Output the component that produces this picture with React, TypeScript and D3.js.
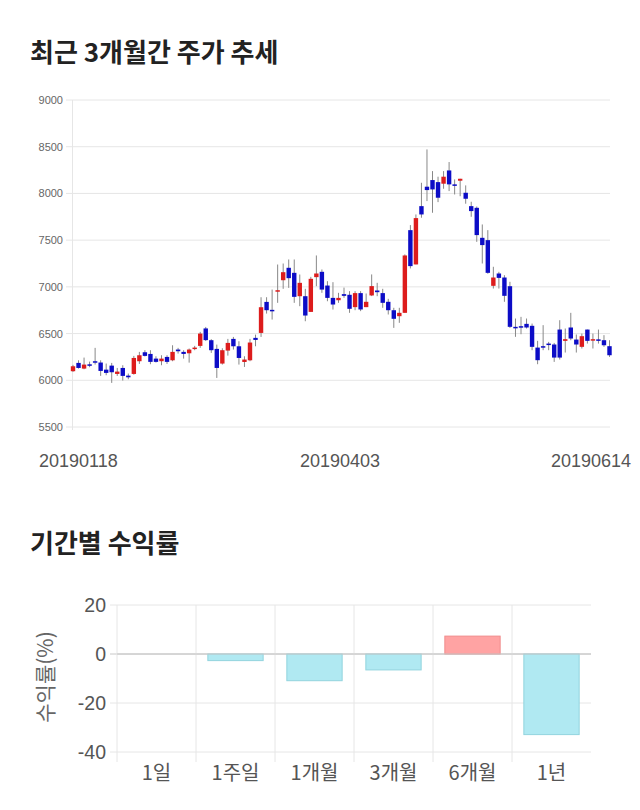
import React from "react";
import * as d3 from "d3";

const opens = [6097,6186,6125,6171,6204,6190,6114,6157,6068,6132,6050,6068,6204,6300,6282,6232,6204,6250,6214,6329,6304,6289,6336,6368,6555,6429,6336,6179,6318,6443,6364,6196,6214,6454,6507,6839,6754,6950,7071,7204,7150,6900,6900,6732,7104,7161,7014,6882,6857,6922,6915,6783,6933,6783,6908,6961,6933,6840,6750,6686,6722,7607,7240,7864,8072,8143,8121,8104,8246,8097,8136,8007,7864,7846,7525,7500,7011,7143,7100,7007,6572,6579,6604,6583,6350,6365,6393,6383,6543,6422,6565,6436,6358,6543,6433,6438,6429,6365];
const closes = [6150,6132,6168,6157,6193,6100,6079,6086,6093,6047,6032,6239,6268,6261,6197,6197,6232,6197,6304,6311,6282,6329,6350,6500,6430,6322,6132,6322,6400,6364,6239,6222,6404,6432,6782,6750,6743,6964,7157,7093,6893,7043,6693,7086,7143,6971,6882,6811,6882,6904,6765,6933,6758,6840,7008,6943,6829,6750,6658,6722,7336,7222,7736,7775,8036,8043,7954,8179,8097,8086,8157,7943,7811,7554,7447,7150,7100,7096,6904,6572,6568,6575,6565,6358,6215,6350,6383,6243,6243,6440,6447,6383,6472,6422,6440,6433,6375,6268];
const highs = [6165,6214,6243,6200,6347,6214,6179,6186,6132,6161,6072,6261,6304,6322,6322,6257,6268,6268,6375,6347,6322,6340,6368,6518,6571,6440,6382,6343,6443,6464,6418,6257,6443,6489,6889,6889,6971,7239,7250,7293,7293,7132,6979,7107,7336,7186,7061,7050,6936,6992,6954,6954,6954,6929,7133,7043,6979,6872,6776,6776,7347,7661,7775,8114,8471,8239,8179,8239,8336,8150,8157,8086,7911,7860,7668,7607,7215,7161,7125,7054,6661,6679,6661,6607,6422,6590,6411,6400,6643,6554,6722,6490,6500,6543,6500,6543,6483,6429];
const lows = [6090,6125,6118,6140,6168,6047,6054,5972,6047,5997,6011,6060,6175,6255,6172,6190,6161,6175,6204,6286,6232,6189,6322,6347,6420,6293,6025,6168,6264,6329,6168,6143,6204,6364,6464,6714,6650,6829,6979,6989,6829,6793,6632,6732,7007,6936,6846,6757,6829,6883,6722,6750,6740,6783,6901,6900,6776,6704,6561,6615,6722,7197,7240,7740,7918,7793,7907,8050,8025,7989,7970,7890,7750,7482,7250,7140,6982,6982,6840,6560,6465,6493,6554,6322,6172,6322,6322,6197,6222,6297,6429,6297,6340,6393,6340,6393,6358,6250];
const priceTicks = [5500, 6000, 6500, 7000, 7500, 8000, 8500, 9000];
const dateLabels = ["20190118", "20190403", "20190614"];

const periods = ["1일", "1주일", "1개월", "3개월", "6개월", "1년"];
const returns = [0, -2.7, -10.9, -6.5, 7.3, -32.9];
const returnTicks = [20, 0, -20, -40];

const KR = "'Noto Sans CJK KR', 'Noto Sans', sans-serif";
const NUM = "'Liberation Sans', Arial, 'Noto Sans CJK KR', sans-serif";

export default function App() {
  const idx = d3.range(opens.length);
  const x = d3.scaleLinear().domain([0, opens.length - 1]).range([73, 609.5]);
  const y = d3.scaleLinear().domain([5500, 9000]).range([427, 100]);
  const red = "#dd1c1c";
  const blue = "#0c0cc6";

  const bx = d3.scaleBand<string>().domain(periods).range([117, 591]).padding(0);
  const by = d3.scaleLinear().domain([-40, 20]).range([752, 605]);
  const bw = bx.bandwidth() * 0.7;

  return (
    <svg width={640} height={810} style={{ position: "absolute", left: 0, top: 0, background: "#fff" }}>
      <text x={30} y={62} fontFamily={KR} fontWeight="bold" fontSize={26} fill="#222">최근 3개월간 주가 추세</text>

      {priceTicks.map((t) => (
        <g key={t}>
          <line x1={66} x2={610} y1={y(t)} y2={y(t)} stroke="#e6e6e6" strokeWidth={1} />
          <text x={63} y={y(t) + 4} textAnchor="end" fontFamily={NUM} fontSize={11} fill="#666">{t}</text>
        </g>
      ))}
      <line x1={72.5} x2={72.5} y1={100} y2={430} stroke="#e6e6e6" />

      {idx.map((i) => {
        const o = opens[i], c = closes[i];
        const up = c >= o;
        const top = y(Math.max(o, c));
        const h = Math.max(1.5, y(Math.min(o, c)) - top);
        const cx = x(i);
        return (
          <g key={i}>
            <line x1={cx} x2={cx} y1={y(highs[i])} y2={y(lows[i])} stroke="#888" strokeWidth={1} />
            <rect x={cx - 2.2} y={top} width={4.4} height={h} fill={up ? red : blue} />
          </g>
        );
      })}

      <text x={39} y={467} fontFamily={NUM} fontSize={18} fill="#555">{dateLabels[0]}</text>
      <text x={340} y={467} textAnchor="middle" fontFamily={NUM} fontSize={18} fill="#555">{dateLabels[1]}</text>
      <text x={631} y={467} textAnchor="end" fontFamily={NUM} fontSize={18} fill="#555">{dateLabels[2]}</text>

      <text x={30} y={553} fontFamily={KR} fontWeight="bold" fontSize={26} fill="#222">기간별 수익률</text>

      {returnTicks.map((t) => (
        <g key={t}>
          <line x1={110} x2={591} y1={by(t)} y2={by(t)} stroke={t === 0 ? "#c8c8c8" : "#e6e6e6"} />
          <text x={106} y={by(t) + 7} textAnchor="end" fontFamily={NUM} fontSize={19.5} fill="#555">{t}</text>
        </g>
      ))}
      {periods.map((p) => (
        <line key={p} x1={bx(p)!} x2={bx(p)!} y1={605} y2={762} stroke="#e6e6e6" />
      ))}

      {periods.map((p, i) => {
        const v = returns[i];
        if (v === 0) return null;
        const y0 = by(Math.max(0, v));
        const h = Math.abs(by(v) - by(0));
        return (
          <rect key={p} x={bx(p)! + (bx.bandwidth() - bw) / 2} y={y0} width={bw} height={h}
            fill={v > 0 ? "#ffa3a3" : "#b0e9f2"} stroke={v > 0 ? "#f08c8c" : "#92d4de"} strokeWidth={1} />
        );
      })}
      <line x1={117} x2={591} y1={by(0)} y2={by(0)} stroke="#c8c8c8" />

      {periods.map((p) => (
        <text key={p} x={bx(p)! + bx.bandwidth() / 2} y={780} textAnchor="middle" fontFamily={KR} fontSize={20} fill="#555">{p}</text>
      ))}

      <text transform="translate(53,677) rotate(-90)" textAnchor="middle" fontFamily={KR} fontSize={21} fill="#666">수익률(%)</text>
    </svg>
  );
}
